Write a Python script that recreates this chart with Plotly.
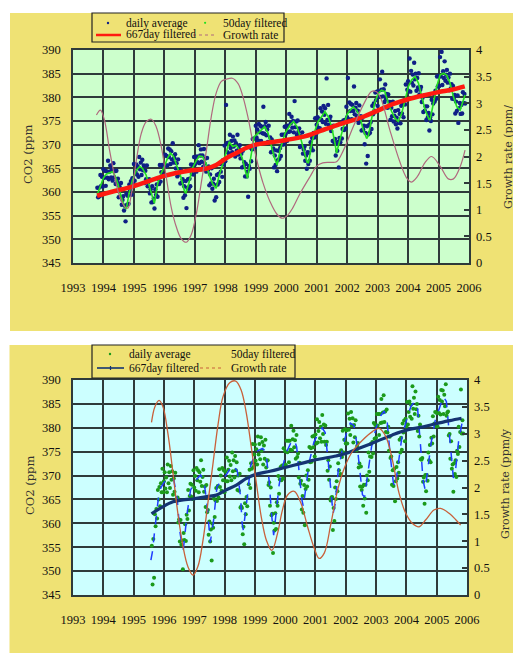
import plotly.graph_objects as go

# browser body margin (8px) shifts the figure; the figure is sized to fit the 521x653 window
PAGE_W, PAGE_H, OFF = 521, 653, 8
W, H = PAGE_W - OFF, PAGE_H - OFF

# ---------------- data: upper panel ----------------
daily1_start, daily1_step = 1993.8, 0.025
daily1 = [
    360.9, 358.9, 360.9, 359.1, 363.6, 361.3, 363.2, 361.1, 364.8, 363.0, 364.5, 361.3,
    364.4, 363.0, 366.6, 362.7, 364.3, 365.6, 363.1, 364.7, 362.4, 366.1, 363.1, 364.4,
    361.7, 364.5, 362.0, 362.8, 358.9, 361.2, 359.0, 361.9, 357.3, 358.3, 359.1, 356.1,
    357.1, 353.8, 359.6, 357.3, 359.2, 357.5, 361.6, 360.3, 362.3, 359.4, 362.9, 361.9,
    365.9, 362.4, 364.3, 365.8, 363.7, 365.4, 363.2, 367.4, 364.8, 366.2, 363.6, 366.8,
    364.6, 365.6, 361.9, 364.5, 362.7, 365.6, 361.2, 362.1, 362.7, 359.7, 360.6, 357.8,
    361.2, 357.9, 358.6, 356.5, 360.6, 359.4, 361.6, 359.0, 362.8, 361.7, 365.7, 362.2,
    364.2, 365.7, 363.6, 365.4, 363.5, 367.9, 365.6, 367.6, 365.6, 369.2, 367.4, 369.0,
    365.9, 368.6, 366.9, 370.3, 366.2, 367.2, 368.0, 365.0, 366.1, 363.3, 366.9, 363.7,
    364.8, 361.8, 364.5, 362.0, 362.7, 358.8, 361.2, 359.3, 362.3, 356.6, 360.9, 362.7,
    360.7, 362.8, 361.2, 365.8, 363.8, 365.7, 363.7, 367.4, 365.8, 367.4, 364.3, 367.5,
    366.3, 369.9, 366.1, 367.7, 369.0, 366.4, 367.7, 365.3, 369.1, 366.0, 367.1, 364.3,
    367.2, 364.6, 365.4, 361.4, 363.7, 361.8, 365.0, 360.7, 361.8, 362.8, 358.2, 361.4,
    358.9, 363.6, 361.6, 363.8, 362.1, 365.9, 364.3, 366.1, 363.2, 366.7, 365.8, 369.8,
    366.5, 378.4, 370.3, 368.4, 370.4, 368.1, 372.1, 369.3, 370.8, 368.4, 371.7, 369.6,
    370.9, 367.5, 370.3, 368.7, 372.1, 367.9, 369.1, 369.9, 367.1, 368.1, 365.2, 368.7,
    365.4, 366.3, 363.3, 365.9, 363.3, 364.3, 359.0, 365.5, 364.9, 369.4, 366.5, 369.0,
    371.2, 369.2, 371.3, 369.5, 374.0, 371.5, 373.2, 370.9, 374.4, 372.6, 374.0, 370.8,
    373.8, 372.4, 378.0, 372.3, 373.9, 374.8, 372.0, 373.2, 370.6, 374.0, 370.6, 371.5,
    368.4, 371.1, 368.5, 369.2, 365.2, 367.7, 365.7, 368.8, 364.4, 366.7, 368.7, 367.0,
    369.3, 367.6, 372.1, 370.0, 372.1, 370.1, 373.8, 372.2, 373.9, 370.8, 374.0, 372.7,
    376.5, 372.8, 374.5, 375.9, 373.6, 375.0, 372.6, 379.2, 373.7, 374.9, 372.1, 375.1,
    372.7, 373.4, 369.5, 371.8, 369.7, 372.6, 368.1, 369.0, 369.6, 366.6, 367.7, 364.9,
    368.4, 365.9, 368.3, 366.6, 370.5, 369.3, 371.4, 368.8, 372.5, 371.5, 375.6, 372.2,
    374.2, 375.8, 373.6, 375.5, 373.5, 377.7, 375.3, 377.0, 374.8, 378.2, 376.3, 377.7,
    374.4, 384.0, 375.2, 378.4, 374.2, 375.2, 375.9, 372.9, 373.9, 370.8, 374.0, 370.5,
    371.2, 367.7, 370.2, 368.7, 370.6, 365.2, 371.4, 370.5, 374.6, 371.3, 373.3, 375.1,
    373.1, 375.2, 373.4, 378.0, 375.8, 384.1, 375.4, 378.9, 377.1, 378.6, 375.4, 378.4,
    377.1, 382.3, 376.4, 377.8, 378.8, 376.0, 377.2, 374.6, 378.3, 375.0, 376.0, 373.0,
    375.7, 373.2, 374.0, 370.1, 372.5, 366.0, 373.9, 367.6, 372.2, 374.2, 372.5, 374.8,
    373.3, 378.2, 376.4, 378.7, 377.2, 381.0, 379.4, 381.2, 378.2, 381.3, 380.1, 383.8,
    380.1, 381.6, 385.4, 380.2, 381.7, 379.0, 382.7, 379.6, 380.7, 377.8, 380.6, 378.2,
    379.0, 375.3, 377.8, 376.0, 379.1, 374.9, 376.1, 377.1, 374.3, 375.7, 373.4, 377.3,
    374.6, 376.5, 374.5, 378.2, 376.6, 378.6, 375.8, 379.4, 378.5, 382.7, 379.4, 381.6,
    383.4, 381.3, 388.2, 381.2, 385.6, 383.1, 384.8, 382.5, 387.3, 383.8, 385.0, 381.4,
    384.1, 382.1, 385.1, 380.6, 381.6, 382.2, 379.0, 379.9, 376.9, 380.4, 377.2, 378.1,
    375.2, 378.1, 375.8, 376.7, 373.0, 375.8, 375.0, 379.5, 376.4, 378.7, 380.7, 379.1,
    381.4, 379.7, 384.4, 382.3, 384.5, 382.4, 388.5, 384.4, 389.6, 382.6, 385.5, 384.1,
    387.6, 383.5, 384.8, 385.8, 383.1, 384.2, 381.5, 385.0, 381.9, 382.8, 379.7, 382.4,
    379.7, 380.5, 376.6, 379.1, 377.1, 380.4, 374.6, 377.7, 378.8, 376.5, 378.4, 376.6,
    381.1, 378.8, 380.7, 378.7,
]

f50_1_t = [1993.80, 1993.90, 1994.00, 1994.10, 1994.20, 1994.30, 1994.38, 1994.47, 1994.58, 1994.69,
           1994.75, 1994.84, 1994.95, 1995.08, 1995.19, 1995.28, 1995.40, 1995.51, 1995.62, 1995.67,
           1995.78, 1995.89, 1996.00, 1996.10, 1996.20, 1996.30, 1996.40, 1996.54, 1996.65, 1996.70,
           1996.80, 1996.92, 1997.03, 1997.14, 1997.25, 1997.36, 1997.47, 1997.58, 1997.70, 1997.80,
           1997.91, 1998.02, 1998.13, 1998.24, 1998.35, 1998.46, 1998.57, 1998.68, 1998.73, 1998.84,
           1998.95, 1999.07, 1999.18, 1999.29, 1999.40, 1999.50, 1999.60, 1999.70, 1999.80, 1999.96,
           2000.13, 2000.24, 2000.35, 2000.46, 2000.57, 2000.68, 2000.73, 2000.84, 2000.95, 2001.05,
           2001.16, 2001.27, 2001.38, 2001.49, 2001.60, 2001.65, 2001.76, 2001.88, 2001.99, 2002.10,
           2002.20, 2002.31, 2002.42, 2002.53, 2002.64, 2002.70, 2002.80, 2002.90, 2003.02, 2003.13,
           2003.24, 2003.35, 2003.46, 2003.57, 2003.68, 2003.79, 2003.90, 2004.01, 2004.12, 2004.23,
           2004.34, 2004.45, 2004.56, 2004.67, 2004.72, 2004.83, 2004.94, 2005.05, 2005.16, 2005.27,
           2005.38, 2005.49, 2005.60, 2005.71, 2005.82, 2005.87]
f50_1_v = [359.5, 361.5, 363.0, 363.8, 364.1, 364.3, 363.4, 361.8, 359.0, 356.9,
           356.4, 359.7, 362.5, 364.6, 365.4, 365.0, 363.6, 361.1, 358.7, 357.6,
           361.8, 363.9, 365.4, 367.1, 368.2, 367.5, 365.7, 363.2, 360.4, 359.7,
           361.8, 365.0, 366.4, 367.6, 367.5, 366.1, 363.6, 361.8, 360.8, 363.6,
           365.7, 368.2, 370.6, 369.6, 369.9, 368.9, 366.8, 363.9, 362.9, 367.5,
           371.7, 372.4, 373.1, 373.8, 372.5, 369.9, 367.5, 365.7, 368.9, 372.4,
           374.2, 374.9, 373.8, 371.7, 368.9, 366.4, 366.1, 370.3, 373.1, 374.9,
           375.9, 377.0, 375.9, 373.8, 370.3, 368.2, 371.0, 373.8, 376.3, 377.3,
           378.0, 377.3, 375.9, 373.1, 371.3, 372.0, 375.2, 378.7, 380.8, 381.5,
           381.2, 378.7, 377.0, 375.6, 374.9, 376.6, 379.4, 382.3, 383.7, 384.4,
           383.0, 380.1, 377.3, 375.6, 375.2, 378.7, 382.3, 384.7, 385.1, 384.7,
           383.0, 380.1, 378.0, 377.3, 379.4, 380.5]

f667_1_t = [1993.79, 1994.31, 1994.97, 1995.62, 1996.00, 1996.38, 1996.80, 1997.36, 1997.70, 1998.02,
            1998.35, 1998.68, 1999.00, 1999.50, 2000.00, 2000.57, 2001.00, 2001.65, 2002.00, 2002.53,
            2003.00, 2003.52, 2004.00, 2004.50, 2005.00, 2005.44, 2005.86]
f667_1_v = [359.2, 360.1, 361.2, 362.6, 363.4, 364.0, 364.5, 364.9, 365.7, 367.1,
            368.2, 369.3, 370.0, 370.5, 371.0, 371.7, 372.6, 374.1, 374.8, 375.9,
            377.2, 378.6, 379.6, 380.4, 381.1, 381.6, 382.3]

gr1_t = [1993.77, 1993.90, 1994.03, 1994.20, 1994.37, 1994.53, 1994.70, 1994.80, 1994.92, 1995.08,
         1995.24, 1995.40, 1995.57, 1995.73, 1995.90, 1996.06, 1996.22, 1996.39, 1996.55, 1996.72,
         1996.88, 1997.05, 1997.21, 1997.38, 1997.54, 1997.70, 1997.87, 1998.03, 1998.23, 1998.42,
         1998.58, 1998.75, 1998.91, 1999.07, 1999.24, 1999.47, 1999.69, 1999.87, 2000.05, 2000.20,
         2000.45, 2000.78, 2001.00, 2001.20, 2001.43, 2001.65, 2001.88, 2002.20, 2002.53, 2002.80,
         2002.95, 2003.10, 2003.40, 2003.73, 2003.95, 2004.10, 2004.30, 2004.55, 2004.77, 2005.05,
         2005.32, 2005.49, 2005.71, 2005.87]
gr1_v = [2.78, 2.87, 2.69, 2.12, 1.62, 1.25, 1.06, 1.03, 1.31, 1.93,
         2.43, 2.65, 2.70, 2.56, 2.18, 1.62, 1.06, 0.68, 0.46, 0.39,
         0.53, 0.93, 1.50, 2.12, 2.75, 3.19, 3.41, 3.45, 3.47, 3.37,
         3.12, 2.72, 2.25, 1.85, 1.50, 1.15, 0.92, 0.84, 0.90, 1.02,
         1.30, 1.62, 1.82, 1.88, 1.89, 1.90, 2.12, 2.56, 2.97, 3.22,
         3.22, 3.10, 2.50, 1.90, 1.60, 1.52, 1.62, 1.88, 2.00, 1.82,
         1.58, 1.58, 1.81, 2.12]

# ---------------- data: lower panel ----------------
daily2_start, daily2_step = 1995.6, 0.025
daily2 = [
    355.3, 347.2, 356.7, 348.6, 361.9, 359.4, 363.0, 361.0, 367.0, 365.0, 367.6, 363.6,
    368.4, 366.5, 371.4, 366.5, 368.8, 370.7, 367.3, 369.6, 366.5, 372.3, 368.4, 370.7,
    367.4, 372.0, 369.1, 370.9, 366.0, 369.4, 366.6, 370.6, 364.7, 365.2, 365.4, 360.2,
    360.8, 356.2, 360.7, 355.5, 356.4, 350.4, 358.0, 356.5, 359.8, 356.3, 361.8, 360.9,
    367.0, 362.7, 365.7, 368.3, 365.6, 368.1, 365.1, 371.1, 367.5, 369.9, 366.8, 371.6,
    369.0, 371.1, 366.5, 370.7, 368.7, 373.2, 367.8, 369.7, 371.2, 366.6, 367.7, 363.4,
    368.0, 362.3, 362.8, 357.6, 360.4, 356.2, 358.7, 352.2, 359.9, 359.1, 365.2, 361.3,
    364.8, 367.4, 364.7, 367.8, 365.4, 371.3, 367.6, 370.0, 366.8, 371.6, 369.0, 371.1,
    366.5, 370.8, 368.8, 373.8, 368.8, 371.2, 373.1, 369.8, 372.2, 369.0, 374.8, 370.9,
    373.2, 369.6, 374.1, 371.1, 372.8, 367.0, 370.0, 366.8, 370.4, 363.3, 363.5, 363.2,
    357.7, 359.3, 355.6, 364.2, 361.9, 365.5, 363.6, 369.6, 368.2, 371.2, 367.4, 372.6,
    371.4, 376.6, 371.8, 374.4, 376.5, 373.1, 375.5, 372.3, 378.2, 374.4, 376.6, 373.4,
    378.0, 375.2, 377.0, 372.3, 376.3, 373.5, 377.5, 371.7, 373.1, 373.2, 368.0, 368.6,
    363.7, 367.5, 361.7, 362.0, 353.8, 360.1, 358.5, 362.1, 358.8, 364.4, 363.7, 369.9,
    366.2, 369.2, 371.8, 369.0, 372.1, 369.4, 375.7, 372.3, 375.1, 372.2, 377.3, 374.9,
    377.3, 372.8, 377.3, 375.4, 380.4, 375.3, 377.6, 379.4, 375.9, 377.4, 373.5, 378.5,
    373.9, 374.6, 369.6, 372.7, 368.3, 368.9, 362.9, 365.7, 362.2, 368.0, 359.6, 367.2,
    370.0, 367.7, 371.1, 369.1, 376.0, 372.8, 375.7, 372.9, 378.2, 375.9, 378.3, 374.0,
    378.6, 376.7, 381.8, 376.9, 379.3, 381.2, 377.8, 380.2, 377.1, 382.7, 378.7, 380.7,
    377.1, 380.5, 376.4, 377.1, 371.0, 373.2, 369.1, 371.9, 364.8, 365.4, 365.5, 358.6,
    363.2, 360.5, 367.5, 365.1, 368.8, 366.7, 372.6, 371.1, 374.3, 370.3, 375.3, 373.9,
    379.4, 374.8, 377.5, 379.7, 376.7, 379.5, 376.7, 383.0, 379.6, 381.9, 378.5, 383.3,
    380.5, 382.0, 376.9, 380.6, 378.0, 381.6, 375.3, 376.2, 376.8, 371.7, 372.5, 367.7,
    371.9, 367.0, 367.7, 363.7, 368.1, 365.2, 368.1, 362.2, 370.0, 369.0, 374.8, 370.8,
    374.0, 376.6, 373.9, 377.0, 374.6, 381.0, 377.7, 380.6, 377.9, 382.9, 380.5, 382.9,
    378.5, 382.9, 381.0, 386.0, 381.1, 383.2, 386.8, 381.2, 383.4, 379.1, 383.8, 379.0,
    380.2, 375.2, 378.1, 373.7, 374.0, 368.1, 371.1, 367.8, 371.4, 364.6, 368.8, 371.8,
    369.4, 372.8, 370.6, 377.5, 374.8, 377.9, 375.4, 380.9, 379.0, 381.5, 377.2, 381.9,
    380.2, 385.4, 380.7, 383.3, 385.5, 382.3, 384.8, 381.9, 388.7, 384.0, 386.3, 382.9,
    387.6, 383.9, 385.0, 379.3, 382.5, 378.2, 380.7, 373.4, 373.3, 373.7, 368.7, 369.6,
    364.1, 370.1, 366.7, 370.1, 368.9, 374.8, 373.2, 376.4, 372.8, 377.9, 376.7, 382.4,
    378.2, 380.9, 383.3, 380.3, 383.1, 380.3, 386.5, 383.1, 385.8, 382.8, 387.9, 385.5,
    387.8, 382.9, 386.9, 384.5, 389.1, 382.5, 383.2, 383.4, 378.4, 378.7, 373.5, 377.2,
    371.4, 372.3, 366.6, 372.6, 370.3, 373.2, 369.7, 375.2, 374.5, 380.2, 376.0, 379.1,
    388.0, 378.8, 381.6, 378.8,
]

f50_2_t = [1995.57, 1995.62, 1995.67, 1995.75, 1995.82, 1995.90, 1996.00, 1996.10, 1996.22, 1996.33,
           1996.44, 1996.52, 1996.60, 1996.64, 1996.77, 1996.88, 1997.05, 1997.21, 1997.32, 1997.43,
           1997.49, 1997.53, 1997.64, 1997.75, 1998.04, 1998.26, 1998.42, 1998.53, 1998.58, 1998.62,
           1998.75, 1998.86, 1999.03, 1999.25, 1999.36, 1999.47, 1999.55, 1999.62, 1999.70, 1999.80,
           1999.90, 2000.05, 2000.20, 2000.30, 2000.38, 2000.48, 2000.55, 2000.60, 2000.68, 2000.80,
           2000.95, 2001.10, 2001.22, 2001.32, 2001.42, 2001.52, 2001.58, 2001.65, 2001.75, 2001.90,
           2002.05, 2002.15, 2002.27, 2002.38, 2002.48, 2002.55, 2002.62, 2002.72, 2002.85, 2003.00,
           2003.15, 2003.27, 2003.37, 2003.47, 2003.57, 2003.63, 2003.72, 2003.85, 2004.00, 2004.15,
           2004.27, 2004.37, 2004.47, 2004.55, 2004.62, 2004.70, 2004.82, 2004.95, 2005.10, 2005.22,
           2005.32, 2005.40, 2005.47, 2005.55, 2005.62, 2005.72, 2005.85]
f50_2_v = [352.3, 354.0, 357.0, 362.0, 365.5, 367.5, 368.5, 369.2, 369.6, 369.0,
           365.0, 358.6, 355.1, 354.5, 362.3, 367.0, 369.0, 370.1, 369.0, 363.5,
           358.6, 356.0, 360.7, 367.7, 370.0, 372.2, 371.0, 365.5, 360.0, 358.6,
           365.5, 372.0, 375.0, 375.7, 375.0, 369.0, 362.0, 357.5, 362.0, 368.0,
           371.5, 375.0, 377.0, 377.5, 376.0, 370.0, 365.0, 363.5, 367.0, 373.0,
           377.0, 379.0, 380.0, 379.0, 373.0, 365.0, 362.0, 364.0, 371.0, 376.0,
           379.5, 381.0, 380.5, 376.0, 370.0, 366.0, 365.5, 370.0, 376.0, 380.0,
           382.5, 383.5, 381.0, 374.0, 368.5, 367.5, 372.0, 378.0, 381.5, 384.5,
           385.5, 384.0, 376.0, 369.0, 367.0, 371.0, 377.0, 381.5, 384.5, 386.5,
           385.5, 380.0, 374.0, 369.5, 371.0, 377.0, 381.5]

f667_2_t = [1995.59, 1995.97, 1996.30, 1996.63, 1996.96, 1997.40, 1997.73, 1998.06, 1998.39, 1998.72,
            1999.05, 1999.50, 2000.00, 2000.57, 2001.00, 2001.68, 2002.00, 2002.44, 2003.00, 2003.54,
            2004.00, 2004.56, 2005.00, 2005.43, 2005.82]
f667_2_v = [362.0, 363.5, 364.5, 364.9, 365.1, 365.6, 365.9, 367.0, 368.0, 369.4,
            370.3, 370.9, 371.7, 372.6, 373.3, 374.1, 374.6, 375.7, 377.1, 378.5,
            379.5, 380.2, 380.9, 381.5, 382.0]

gr2_t = [1995.59, 1995.70, 1995.84, 1995.97, 1996.13, 1996.30, 1996.46, 1996.63, 1996.79, 1996.96,
         1997.12, 1997.29, 1997.45, 1997.62, 1997.79, 1997.95, 1998.17, 1998.37, 1998.55, 1998.72,
         1998.88, 1999.05, 1999.21, 1999.38, 1999.56, 1999.75, 1999.91, 2000.08, 2000.30, 2000.52,
         2000.74, 2000.96, 2001.12, 2001.29, 2001.51, 2001.73, 2001.95, 2002.22, 2002.55, 2002.88,
         2003.10, 2003.32, 2003.54, 2003.76, 2003.98, 2004.20, 2004.42, 2004.64, 2004.91, 2005.13,
         2005.41, 2005.63, 2005.79]
gr2_v = [3.21, 3.50, 3.62, 3.50, 3.01, 2.26, 1.52, 0.90, 0.53, 0.37,
         0.53, 1.02, 1.71, 2.45, 3.19, 3.69, 3.95, 3.98, 3.81, 3.38,
         2.76, 2.08, 1.46, 1.02, 0.83, 1.15, 1.58, 1.86, 1.93, 1.71,
         1.27, 0.87, 0.68, 0.78, 1.33, 1.95, 2.36, 2.67, 2.88, 3.04,
         3.10, 2.95, 2.51, 1.89, 1.52, 1.33, 1.27, 1.40, 1.58, 1.61,
         1.52, 1.40, 1.30]

years = list(range(1993, 2007))
legend_labels = ["daily average", "50day filtered", "667day filtered", "Growth rate"]

# ---------------- styles ----------------
YELLOW = "#efe274"
GREEN_BG = "#ccffcc"
CYAN_BG = "#ccffff"
GRID = "#2e3a3a"
SERIF = "Liberation Serif"
C_DAILY1, C_F50_1, C_F667_1, C_GR1 = "#0f1f86", "#22e022", "#ff1a10", "#b0687e"
C_DAILY2, C_F50_2, C_F667_2, C_GR2 = "#1b9a1b", "#1f3cff", "#143472", "#c8603a"

t1 = [round(daily1_start + i * daily1_step, 4) for i in range(len(daily1))]
t2 = [round(daily2_start + i * daily2_step, 4) for i in range(len(daily2))]

fig = go.Figure()
# upper panel
fig.add_trace(go.Scatter(x=t1, y=daily1, mode="markers", xaxis="x", yaxis="y",
                         marker=dict(size=4.4, color=C_DAILY1), showlegend=False))
fig.add_trace(go.Scatter(x=f50_1_t, y=f50_1_v, mode="lines", xaxis="x", yaxis="y",
                         line=dict(color=C_F50_1, width=1.6), showlegend=False))
fig.add_trace(go.Scatter(x=f667_1_t, y=f667_1_v, mode="lines", xaxis="x", yaxis="y",
                         line=dict(color=C_F667_1, width=4.5, shape="spline"), showlegend=False))
fig.add_trace(go.Scatter(x=gr1_t, y=gr1_v, mode="lines", xaxis="x", yaxis="y2",
                         line=dict(color=C_GR1, width=1.2, shape="spline"), showlegend=False))
# lower panel
fig.add_trace(go.Scatter(x=t2, y=daily2, mode="markers", xaxis="x2", yaxis="y3",
                         marker=dict(size=4.0, color=C_DAILY2), showlegend=False))
fig.add_trace(go.Scatter(x=f50_2_t, y=f50_2_v, mode="lines", xaxis="x2", yaxis="y3",
                         line=dict(color=C_F50_2, width=1.5, dash="dash"), showlegend=False))
fig.add_trace(go.Scatter(x=f667_2_t, y=f667_2_v, mode="lines", xaxis="x2", yaxis="y3",
                         line=dict(color=C_F667_2, width=3.2, shape="spline"), showlegend=False))
fig.add_trace(go.Scatter(x=gr2_t, y=gr2_v, mode="lines", xaxis="x2", yaxis="y4",
                         line=dict(color=C_GR2, width=1.3, shape="spline"), showlegend=False))

tickfont = dict(family=SERIF, size=12.5, color="#111111")


def xax(domain, anchor):
    return dict(domain=domain, anchor=anchor, range=[1993, 2006], tickmode="array",
                tickvals=years, ticktext=[str(y) for y in years],
                showgrid=True, gridcolor=GRID, gridwidth=1.5, zeroline=False,
                showline=True, mirror=True, linecolor=GRID, linewidth=1.5,
                ticks="", tickfont=tickfont, ticklabelstandoff=12, automargin=False)


def yl(domain, anchor):
    return dict(domain=domain, anchor=anchor, range=[345, 390], dtick=5, tick0=345,
                showgrid=True, gridcolor=GRID, gridwidth=1.5, zeroline=False,
                showline=True, mirror=True, linecolor=GRID, linewidth=1.5,
                ticks="", tickfont=tickfont, ticklabelstandoff=8, automargin=False)


def yr(overlay, anchor):
    return dict(overlaying=overlay, anchor=anchor, side="right", range=[0, 4], dtick=0.5, tick0=0,
                showgrid=False, zeroline=False, showline=False,
                ticks="inside", ticklen=5, tickwidth=1.5, tickcolor=GRID,
                tickfont=tickfont, ticklabelstandoff=6, automargin=False)


def px(x):
    return (x - OFF) / W


def py(y):
    return 1 - (y - OFF) / H


shapes = [
    dict(type="rect", xref="paper", yref="paper", x0=px(10), x1=1, y0=py(331), y1=py(13),
         fillcolor=YELLOW, line=dict(width=0), layer="below"),
    dict(type="rect", xref="paper", yref="paper", x0=px(9.5), x1=1, y0=0, y1=py(345),
         fillcolor=YELLOW, line=dict(width=0), layer="below"),
    dict(type="rect", xref="x domain", yref="y domain", x0=0, x1=1, y0=0, y1=1,
         fillcolor=GREEN_BG, line=dict(width=0), layer="below"),
    dict(type="rect", xref="x2 domain", yref="y3 domain", x0=0, x1=1, y0=0, y1=1,
         fillcolor=CYAN_BG, line=dict(width=0), layer="below"),
    # legend boxes
    dict(type="rect", xref="paper", yref="paper", x0=px(92), x1=px(284), y0=py(42), y1=py(13),
         fillcolor=YELLOW, line=dict(color="#222222", width=1.2)),
    dict(type="rect", xref="paper", yref="paper", x0=px(92), x1=px(295), y0=py(378), y1=py(345),
         fillcolor=YELLOW, line=dict(color="#222222", width=1.2)),
    # legend 1 symbols
    dict(type="circle", xref="paper", yref="paper", x0=px(106.8), x1=px(109.2), y0=py(24.2), y1=py(21.8),
         fillcolor=C_DAILY1, line=dict(width=0)),
    dict(type="circle", xref="paper", yref="paper", x0=px(204), x1=px(206.2), y0=py(23.9), y1=py(21.7),
         fillcolor=C_F50_1, line=dict(width=0)),
    dict(type="line", xref="paper", yref="paper", x0=px(96), x1=px(121), y0=py(35), y1=py(35),
         line=dict(color=C_F667_1, width=2.5)),
    dict(type="line", xref="paper", yref="paper", x0=px(193), x1=px(217), y0=py(35), y1=py(35),
         line=dict(color=C_GR1, width=1.2, dash="dot")),
    # legend 2 symbols
    dict(type="circle", xref="paper", yref="paper", x0=px(108.8), x1=px(111.2), y0=py(355.2), y1=py(352.8),
         fillcolor=C_DAILY2, line=dict(width=0)),
    dict(type="line", xref="paper", yref="paper", x0=px(97), x1=px(124), y0=py(368), y1=py(368),
         line=dict(color=C_F667_2, width=1.6)),
    dict(type="line", xref="paper", yref="paper", x0=px(110.5), x1=px(110.5), y0=py(370), y1=py(366),
         line=dict(color=C_F667_2, width=1.2)),
    dict(type="line", xref="paper", yref="paper", x0=px(200), x1=px(224), y0=py(368), y1=py(368),
         line=dict(color=C_GR2, width=1.2, dash="dot")),
]

legfont = dict(family=SERIF, size=11.5, color="#111111")
annotations = []
for (lx, ly, txt) in [(124, 23, legend_labels[0]), (221, 23, legend_labels[1]),
                      (124, 35, legend_labels[2]), (221, 35, legend_labels[3]),
                      (127, 354, legend_labels[0]), (229, 354, legend_labels[1]),
                      (127, 368, legend_labels[2]), (229, 368, legend_labels[3])]:
    annotations.append(dict(xref="paper", yref="paper", x=px(lx), y=py(ly), text=txt,
                            showarrow=False, xanchor="left", yanchor="middle", font=legfont))

titlefont_l = dict(family="DejaVu Serif", size=11.5, color="#333333")
titlefont_r = dict(family="DejaVu Serif", size=11, color="#333333")
for (tx, ty, txt, fnt) in [(28, 155, "CO2 (ppm", titlefont_l),
                           (508, 157, "Growth rate (ppm/", titlefont_r),
                           (30, 486, "CO2 (ppm", titlefont_l),
                           (505, 484, "Growth rate (ppm/y", titlefont_r)]:
    annotations.append(dict(xref="paper", yref="paper", x=px(tx), y=py(ty), text=txt,
                            showarrow=False, xanchor="center", yanchor="middle",
                            textangle=-90, font=fnt))

fig.update_layout(
    width=W, height=H,
    margin=dict(l=0, r=0, t=0, b=0),
    paper_bgcolor="white", plot_bgcolor="rgba(0,0,0,0)",
    showlegend=False,
    xaxis=xax([px(73), px(469)], "y"),
    yaxis=yl([py(263), py(50)], "x"),
    yaxis2=yr("y", "x"),
    xaxis2=xax([px(73), px(467)], "y3"),
    yaxis3=yl([py(595), py(380)], "x2"),
    yaxis4=yr("y3", "x2"),
    shapes=shapes,
    annotations=annotations,
)

fig.write_html("out.html")
